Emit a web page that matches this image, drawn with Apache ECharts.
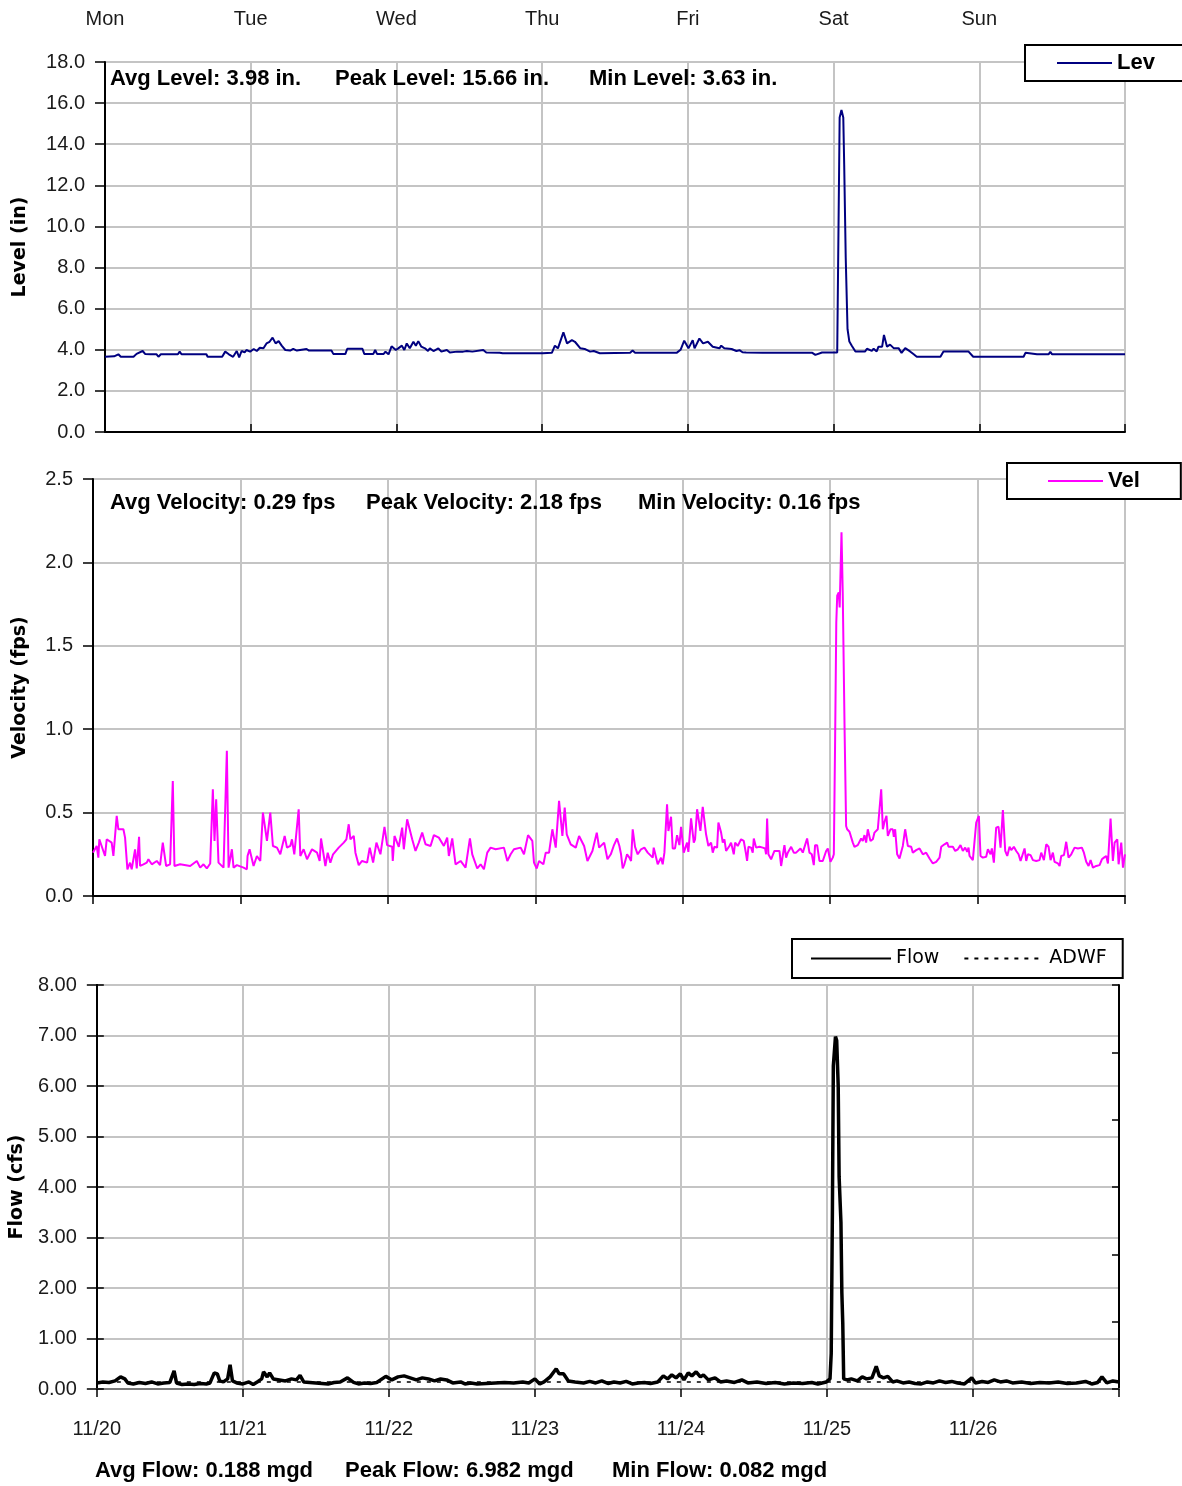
<!DOCTYPE html>
<html><head><meta charset="utf-8">
<script src="https://cdn.jsdelivr.net/npm/echarts@6/dist/echarts.min.js"></script>
<style>html,body{margin:0;padding:0;background:#fff}#c{width:1182px;height:1486px}</style>
</head><body><div id="c"></div>
<script>
// ---- tick labels ----
const days = ['Mon','Tue','Wed','Thu','Fri','Sat','Sun'];
const dates = ['11/20','11/21','11/22','11/23','11/24','11/25','11/26'];

// ---- series: [hour since 11/20 00:00, value] ----
const level = [
[0,3.66],[1.5,3.68],[2.2,3.78],[2.6,3.66],[4.7,3.66],[5.2,3.8],[6.2,3.94],[6.6,3.8],[7.5,3.78],[8.5,3.78],[8.8,3.66],[9.2,3.78],[12,3.78],[12.3,3.91],[12.6,3.78],[16.7,3.78],[16.9,3.66],[19.3,3.66],[19.8,3.91],[20.4,3.78],[21.1,3.66],[21.7,3.94],[22.1,3.63],[22.5,3.94],[23,3.87],[23.3,3.99],[23.9,3.91],[24.5,4.04],[25,3.94],[25.5,4.10],[26.1,4.07],[26.6,4.31],[27.1,4.39],[27.6,4.59],[28.1,4.31],[28.6,4.42],[29.1,4.2],[29.7,3.99],[30.5,3.96],[31,4.04],[31.6,3.96],[33.2,4.04],[33.6,3.96],[37.3,3.96],[37.6,3.8],[39.6,3.8],[39.9,4.05],[42.4,4.05],[42.7,3.8],[44.2,3.8],[44.5,3.99],[44.8,3.8],[45.9,3.8],[46.2,3.91],[46.7,3.78],[47.2,4.17],[47.9,3.99],[48.3,4.07],[48.9,4.2],[49.3,3.99],[49.7,4.31],[50.2,4.07],[50.8,4.39],[51.2,4.2],[51.6,4.42],[52.1,4.15],[52.7,4.07],[53.2,3.94],[53.5,4.07],[54.1,3.94],[54.9,4.07],[55.4,3.91],[56.3,3.99],[56.8,3.87],[58,3.91],[59,3.91],[59.6,3.94],[60.5,3.91],[62.3,3.99],[62.8,3.87],[65,3.86],[65.2,3.78],[65.5,3.83],[72.1,3.83],[73.6,3.85],[74.1,4.2],[74.6,4.07],[75.5,4.85],[76.1,4.31],[76.9,4.47],[77.4,4.39],[78.3,4.07],[79,4.04],[79.9,3.91],[80.5,3.94],[81.5,3.83],[86.5,3.86],[86.9,3.96],[87.3,3.86],[94.2,3.86],[94.8,4.0],[95.4,4.44],[96.1,4.07],[96.8,4.47],[97.1,4.07],[97.9,4.55],[98.5,4.31],[99.3,4.39],[100.1,4.15],[101.2,4.07],[101.5,4.2],[102,4.07],[103.2,4.04],[104,3.94],[104.5,3.98],[105,3.88],[105.6,3.87],[108.3,3.85],[116.5,3.85],[117,3.75],[118.1,3.87],[120.6,3.87],[121.0,15.3],[121.3,15.66],[121.6,15.3],[121.75,13],[122.0,8.5],[122.3,5.0],[122.6,4.4],[123.0,4.2],[123.6,3.92],[125.2,3.92],[125.5,4.05],[126.3,3.95],[126.6,4.05],[127.1,3.92],[127.4,4.15],[128,4.15],[128.3,4.72],[128.8,4.15],[129.3,4.25],[129.9,4.08],[130.7,4.08],[131.2,3.85],[131.8,4.08],[132.6,3.92],[133.2,3.78],[133.7,3.66],[134.5,3.66],[134.8,3.72],[135.1,3.66],[136.2,3.66],[136.5,3.72],[136.8,3.66],[137.6,3.66],[138.1,3.92],[142.2,3.92],[143,3.66],[143.6,3.66],[143.9,3.72],[144.2,3.66],[151.3,3.66],[151.6,3.85],[151.8,3.78],[153.5,3.78],[153.8,3.86],[154.1,3.78],[155.4,3.78],[155.7,3.9],[156,3.78],[157.3,3.78],[157.6,3.85],[157.9,3.78],[162,3.78],[162.3,3.84],[162.6,3.78],[165.3,3.78],[165.6,3.84],[165.9,3.78],[166.9,3.78],[167.2,3.83],[167.5,3.78],[168,3.78]
];

const velocity = [
[0,0.26],[0.6,0.30],[0.87,0.23],[1.03,0.34],[1.96,0.24],[2.23,0.34],[3.04,0.32],[3.32,0.24],[3.86,0.48],[4.13,0.40],[4.95,0.40],[5.22,0.35],[5.6,0.16],[6.03,0.20],[6.3,0.16],[6.85,0.28],[7.12,0.165],[7.5,0.355],[7.66,0.18],[8.21,0.19],[8.75,0.20],[9.02,0.22],[9.57,0.19],[10.38,0.21],[10.92,0.185],[11.36,0.32],[11.9,0.18],[12.55,0.19],[12.99,0.69],[13.26,0.18],[14.18,0.19],[15.82,0.18],[16.9,0.21],[17.45,0.17],[17.99,0.19],[18.53,0.165],[19.08,0.195],[19.51,0.64],[19.78,0.33],[20.05,0.58],[20.43,0.20],[21.25,0.17],[21.79,0.87],[22.07,0.17],[22.61,0.28],[22.88,0.17],[23.42,0.185],[24.51,0.17],[25.05,0.16],[25.16,0.24],[25.49,0.28],[26.14,0.18],[26.68,0.24],[27.23,0.21],[27.66,0.50],[28.32,0.33],[28.86,0.50],[29.29,0.30],[29.95,0.29],[30.49,0.25],[31.2,0.36],[31.58,0.29],[32.12,0.30],[32.39,0.34],[32.77,0.25],[33.48,0.52],[33.75,0.24],[34.29,0.28],[34.84,0.22],[35.65,0.28],[36.47,0.26],[36.9,0.21],[37.12,0.345],[37.83,0.18],[38.21,0.26],[38.64,0.20],[39.08,0.25],[40,0.29],[40.82,0.32],[41.25,0.34],[41.63,0.43],[41.9,0.34],[42.45,0.36],[42.72,0.26],[43.26,0.185],[43.8,0.21],[44.62,0.20],[45.05,0.29],[45.6,0.20],[46.14,0.32],[46.79,0.25],[47.45,0.415],[47.88,0.305],[48.7,0.295],[48.8,0.21],[49.08,0.36],[49.78,0.295],[50.33,0.41],[50.6,0.28],[51.14,0.46],[51.96,0.34],[52.5,0.27],[53.04,0.32],[53.59,0.38],[54.13,0.31],[54.95,0.30],[55.49,0.365],[56.3,0.35],[57.12,0.30],[57.66,0.35],[57.93,0.24],[58.48,0.345],[59.02,0.19],[59.84,0.21],[60.65,0.17],[61.36,0.345],[61.74,0.25],[62.55,0.165],[63.1,0.19],[63.64,0.16],[64.18,0.26],[64.73,0.29],[65.54,0.28],[66.9,0.29],[67.45,0.21],[67.99,0.25],[68.53,0.28],[69.62,0.29],[70.16,0.25],[70.82,0.365],[71.52,0.33],[71.79,0.20],[72.23,0.165],[72.61,0.21],[73.32,0.19],[73.7,0.26],[74.24,0.26],[74.78,0.40],[75.33,0.29],[75.87,0.57],[76.41,0.36],[76.79,0.53],[77.12,0.37],[77.77,0.31],[78.59,0.29],[79.13,0.36],[79.95,0.30],[80.49,0.21],[81.3,0.27],[82.01,0.38],[82.39,0.29],[83.21,0.32],[83.75,0.22],[84.29,0.25],
[84.76,0.30],[84.98,0.30],[85.31,0.345],[85.69,0.30],[85.96,0.25],[86.23,0.165],[86.5,0.19],[86.94,0.25],[87.32,0.23],[87.59,0.21],[87.86,0.40],[88.24,0.295],[88.67,0.25],[89.22,0.28],[89.76,0.29],[90.03,0.295],[90.3,0.26],[91.12,0.23],[91.28,0.29],[91.55,0.295],[91.93,0.19],[92.2,0.18],[92.47,0.23],[92.74,0.19],[93.02,0.26],[93.45,0.55],[93.67,0.39],[94.1,0.475],[94.37,0.285],[94.75,0.285],[95.08,0.365],[95.46,0.305],[95.73,0.415],[96.17,0.26],[96.71,0.32],[96.92,0.265],[97.36,0.465],[97.8,0.32],[98.01,0.34],[98.34,0.52],[98.88,0.39],[99.26,0.535],[99.8,0.37],[100.18,0.30],[100.62,0.32],[100.89,0.26],[101.16,0.295],[101.6,0.29],[101.81,0.44],[102.25,0.38],[102.52,0.32],[102.79,0.34],[103.06,0.27],[103.6,0.30],[103.87,0.32],[104.31,0.25],[104.53,0.32],[104.96,0.30],[105.5,0.34],[105.94,0.33],[106.32,0.25],[106.48,0.21],[106.7,0.295],[107.13,0.29],[107.4,0.26],[107.57,0.345],[107.95,0.29],[108.49,0.295],[109.03,0.29],[109.41,0.285],[109.57,0.25],[109.74,0.465],[109.95,0.25],[110.39,0.22],[110.66,0.21],[110.93,0.27],[111.75,0.27],[112.02,0.18],[112.56,0.305],[112.83,0.23],[113.1,0.26],[113.65,0.295],[114.08,0.26],[114.46,0.26],[115.17,0.285],[115.55,0.26],[116.25,0.345],[116.63,0.26],[117.01,0.25],[117.34,0.185],[117.55,0.305],[117.88,0.305],[118.26,0.21],[118.8,0.21],[119.35,0.27],[119.62,0.285],[120.05,0.205],[120.43,0.23],[120.6,0.25],
[120.8,0.9],[121.0,1.64],[121.15,1.8],[121.4,1.82],[121.55,1.73],[121.85,2.18],[122.05,1.82],[122.35,1.0],[122.6,0.42],
[122.77,0.40],[123.15,0.385],[123.42,0.39],[123.69,0.32],[123.96,0.295],[124.5,0.305],[124.78,0.31],[125.05,0.345],[125.32,0.33],[125.59,0.365],[125.86,0.32],[126.13,0.40],[126.57,0.33],[126.95,0.34],[127.22,0.38],[127.76,0.40],[128.03,0.40],[128.31,0.64],[128.58,0.40],[128.85,0.445],[129.17,0.48],[129.39,0.36],[129.82,0.40],[130.2,0.40],[130.37,0.355],[130.58,0.40],[130.91,0.25],[131.29,0.225],[131.83,0.30],[132.21,0.40],[132.65,0.30],[133.19,0.295],[133.46,0.26],[134.0,0.275],[134.55,0.285],[134.82,0.295],[135.09,0.25],[135.63,0.26],[136.18,0.225],[136.72,0.195],[137.26,0.205],[137.81,0.23],[138.08,0.295],[138.62,0.31],[139.05,0.32],[139.27,0.295],[139.98,0.295],[140.36,0.27],[140.79,0.28],[141.22,0.305],[141.6,0.27],[141.98,0.29],[142.31,0.265],[142.53,0.29],[142.69,0.24],[143.23,0.215],[143.78,0.44],[144.21,0.48],[144.48,0.24],[144.86,0.23],[145.4,0.235],[145.68,0.28],[146.11,0.25],[146.33,0.285],[146.65,0.20],[147.03,0.41],[147.41,0.415],[147.74,0.29],[148.12,0.515],[148.5,0.27],[148.83,0.24],[149.21,0.295],[149.48,0.275],[149.91,0.295],[150.29,0.27],[150.67,0.25],[151.0,0.21],[151.65,0.285],[151.92,0.21],[152.19,0.25],[152.63,0.245],[153.01,0.215],[153.55,0.21],[154.09,0.215],[154.36,0.26],[154.8,0.215],[155.18,0.31],[155.56,0.295],[155.88,0.215],[156.26,0.26],[156.53,0.205],[157.08,0.195],[157.35,0.18],[157.62,0.24],[158.06,0.245],[158.43,0.325],[158.81,0.23],[159.25,0.25],[159.79,0.29],[160.33,0.285],[160.98,0.29],[161.31,0.26],[161.69,0.205],[162.07,0.18],[162.4,0.215],[162.78,0.17],[163.32,0.18],[163.86,0.185],[164.24,0.22],[164.57,0.23],[164.95,0.24],[165.22,0.195],[165.65,0.465],[166.03,0.21],[166.31,0.32],[166.74,0.34],[166.96,0.19],[167.39,0.32],[167.67,0.17],[168,0.25]
];

const flow = [
[0,0.12],[1,0.14],[2,0.13],[3,0.16],[3.9,0.24],[4.6,0.20],[5.1,0.12],[6,0.10],[7,0.13],[8,0.11],[9,0.14],[10,0.10],[11,0.12],[12,0.13],[12.7,0.36],[13.1,0.12],[14,0.09],[15,0.10],[16,0.09],[17,0.11],[18,0.10],[18.6,0.12],[19.3,0.32],[19.8,0.30],[20.2,0.16],[20.8,0.14],[21.5,0.20],[21.9,0.48],[22.3,0.16],[23,0.12],[24,0.10],[25,0.14],[25.7,0.09],[26.5,0.15],[27.1,0.20],[27.4,0.34],[28,0.24],[28.4,0.32],[29,0.20],[30,0.18],[31,0.16],[32,0.20],[32.8,0.18],[33.4,0.27],[34,0.14],[35,0.13],[36,0.12],[37,0.11],[38,0.10],[39,0.13],[40,0.14],[41.2,0.22],[42.2,0.13],[43,0.10],[44,0.12],[45,0.11],[46,0.13],[47.5,0.25],[48.5,0.18],[49.5,0.24],[50.5,0.26],[51.5,0.22],[52.5,0.18],[53.5,0.22],[54.5,0.20],[55.5,0.16],[56.5,0.20],[57.5,0.18],[58.5,0.12],[59.8,0.14],[60.5,0.10],[61.5,0.12],[62.5,0.10],[64,0.11],[65.5,0.12],[67,0.13],[68.5,0.12],[70,0.14],[71,0.12],[72,0.20],[72.8,0.10],[73.5,0.14],[74.5,0.24],[75.5,0.40],[76,0.30],[76.7,0.30],[77.5,0.16],[78.6,0.14],[80,0.12],[81,0.15],[82,0.12],[83,0.16],[84,0.11],[85,0.14],[86,0.12],[87,0.15],[88,0.10],[89,0.12],[90,0.13],[91,0.11],[92.2,0.14],[93.1,0.26],[93.8,0.20],[94.5,0.28],[95.2,0.22],[95.9,0.30],[96.5,0.18],[97.2,0.32],[97.8,0.26],[98.5,0.34],[99.2,0.24],[99.7,0.28],[100.5,0.18],[101.6,0.22],[102.5,0.14],[103.5,0.16],[104.8,0.13],[106,0.18],[107,0.12],[108.5,0.14],[110,0.11],[111.5,0.13],[113,0.10],[114.5,0.12],[116,0.11],[117.5,0.13],[118.5,0.10],[119.9,0.14],[120.5,0.20],[120.7,0.7],[120.9,3.6],[121.05,6.4],[121.4,6.98],[121.6,6.9],[121.85,6.0],[122.0,4.2],[122.3,3.3],[122.45,1.9],[122.6,1.3],[122.75,0.2],[123.3,0.18],[124,0.20],[125,0.16],[125.8,0.24],[126.5,0.20],[127.4,0.22],[128.1,0.45],[128.6,0.26],[129.3,0.22],[130,0.25],[130.8,0.14],[131.5,0.16],[132.5,0.12],[133.5,0.14],[134.5,0.11],[135.5,0.10],[136.5,0.14],[137.5,0.12],[138.5,0.16],[139.5,0.13],[140.5,0.15],[141.5,0.12],[142.6,0.10],[143.8,0.22],[144.4,0.12],[145.5,0.15],[146.5,0.13],[147.5,0.18],[148.5,0.14],[149.5,0.16],[150.5,0.12],[152,0.14],[153.5,0.11],[155,0.13],[156.5,0.12],[158,0.14],[159.5,0.11],[161,0.12],[162.5,0.15],[163.5,0.10],[164.5,0.13],[165.2,0.24],[166,0.12],[167,0.16],[168,0.14]
];

const adwf = [[0,0.14],[168,0.14]];

const stats = {
  level: ['Avg Level: 3.98 in.', 'Peak Level: 15.66 in.', 'Min Level: 3.63 in.'],
  vel: ['Avg Velocity: 0.29 fps', 'Peak Velocity: 2.18 fps', 'Min Velocity: 0.16 fps'],
  flow: ['Avg Flow: 0.188 mgd', 'Peak Flow: 6.982 mgd', 'Min Flow: 0.082 mgd']
};

// ---- styling ----
const GRIDC = '#c4c4c4';
const TICKF = 'Liberation Sans';
const NAMEF = 'DejaVu Sans';
const BOLDF = 'Liberation Sans';
const lblStyle = {fontFamily: TICKF, fontSize: 20, color: '#1a1a1a'};
const nameStyle = {fontFamily: NAMEF, fontWeight: 'bold', fontSize: 19, color: '#000'};
const blackLine = {show: true, lineStyle: {color: '#000', width: 2}};
const split = {show: true, lineStyle: {color: GRIDC, width: 2}};

function xAx(grid, pos, labels, margin) {
  return {
    gridIndex: grid, type: 'value', position: pos, min: 0, max: 168, interval: 24,
    axisLine: blackLine,
    axisTick: {show: true, length: 8, lineStyle: {color: '#000', width: 1.5}},
    axisLabel: labels ? Object.assign({show: true, margin: margin, formatter: v => labels[v / 24] || ''}, lblStyle) : {show: false},
    splitLine: split
  };
}
function yAx(grid, max, step, dec, name, gap) {
  return {
    gridIndex: grid, type: 'value', min: 0, max: max, interval: step, position: 'left',
    axisLine: blackLine,
    axisTick: {show: true, length: 10, lineStyle: {color: '#000', width: 1.5}},
    axisLabel: Object.assign({margin: 20, formatter: v => v.toFixed(dec)}, lblStyle),
    splitLine: split,
    name: name, nameLocation: 'middle', nameGap: gap, nameTextStyle: nameStyle
  };
}

function statText(arr, xs, y) {
  return arr.map((t, i) => ({
    type: 'text', x: xs[i], y: y, z: 100,
    style: {text: t, font: 'bold 22px "' + BOLDF + '"', fill: '#000', verticalAlign: 'middle'}
  }));
}

const legendBase = {
  itemWidth: 55, itemHeight: 12, borderColor: '#000', borderWidth: 2, backgroundColor: '#fff',
  borderRadius: 0, itemStyle: {opacity: 0}
};

const chart = echarts.init(document.getElementById('c'), null, {renderer: 'canvas'});
chart.setOption({
  animation: false,
  backgroundColor: '#fff',
  grid: [
    {left: 105, top: 62, width: 1020, height: 370},
    {left: 93, top: 479, width: 1032, height: 417},
    {left: 95, top: 985, width: 1024, height: 404}
  ],
  xAxis: [
    xAx(0, 'top', days, 33),
    xAx(1, 'bottom', null, 0),
    xAx(2, 'bottom', dates, 30),
    {gridIndex: 2, type: 'value', position: 'top', min: 0, max: 168, interval: 24,
     axisLine: {show: true, lineStyle: {color: '#7a7a7a', width: 2}}, axisTick: {show: false},
     axisLabel: {show: false}, splitLine: {show: false}}
  ],
  yAxis: [
    yAx(0, 18, 2, 1, 'Level (in)', 75),
    yAx(1, 2.5, 0.5, 1, 'Velocity (fps)', 63),
    yAx(2, 8, 1, 2, 'Flow (cfs)', 62),
    {gridIndex: 2, type: 'value', min: 0, max: 8, interval: 1, position: 'left',
     axisLine: blackLine, axisTick: {show: true, inside: true, length: 7, lineStyle: {color: '#000', width: 1.5}},
     axisLabel: {show: false}, splitLine: {show: false}},
    {gridIndex: 2, type: 'value', min: 0, max: 6, interval: 1, position: 'right',
     axisLine: blackLine, axisTick: {show: true, inside: true, length: 7, lineStyle: {color: '#000', width: 1.5}},
     axisLabel: {show: false}, splitLine: {show: false}}
  ],
  legend: [
    Object.assign({}, legendBase, {data: ['Lev'], left: 1025, top: 45, padding: [7, 70, 7, 31],
     textStyle: {fontFamily: BOLDF, fontWeight: 'bold', fontSize: 22, color: '#000'}}),
    Object.assign({}, legendBase, {data: ['Vel'], left: 1007, top: 463, padding: [7, 41, 7, 40],
     textStyle: {fontFamily: BOLDF, fontWeight: 'bold', fontSize: 22, color: '#000'}}),
    Object.assign({}, legendBase, {data: ['Flow', 'ADWF'], left: 792, top: 939, itemWidth: 80, itemGap: 24,
     padding: [10, 16, 10, 18],
     textStyle: {fontFamily: NAMEF, fontSize: 19, color: '#000'}})
  ],
  graphic: [].concat(
    statText(stats.level, [110, 335, 589], 79),
    statText(stats.vel, [110, 366, 638], 503),
    statText(stats.flow, [95, 345, 612], 1471)
  ),
  series: [
    {name: 'Lev', type: 'line', xAxisIndex: 0, yAxisIndex: 0, data: level, symbol: 'none',
     lineStyle: {color: '#000080', width: 2}, itemStyle: {color: '#000080'}, z: 5},
    {name: 'Vel', type: 'line', xAxisIndex: 1, yAxisIndex: 1, data: velocity, symbol: 'none',
     lineStyle: {color: '#ff00ff', width: 2}, itemStyle: {color: '#ff00ff'}, z: 5},
    {name: 'ADWF', type: 'line', xAxisIndex: 2, yAxisIndex: 2, data: adwf, symbol: 'none',
     lineStyle: {color: '#000', width: 1.5, type: [4, 6]}, itemStyle: {color: '#000'}, z: 4},
    {name: 'Flow', type: 'line', xAxisIndex: 2, yAxisIndex: 2, data: flow, symbol: 'none',
     lineStyle: {color: '#000', width: 3.5}, itemStyle: {color: '#000'}, z: 5}
  ]
});
</script></body></html>
